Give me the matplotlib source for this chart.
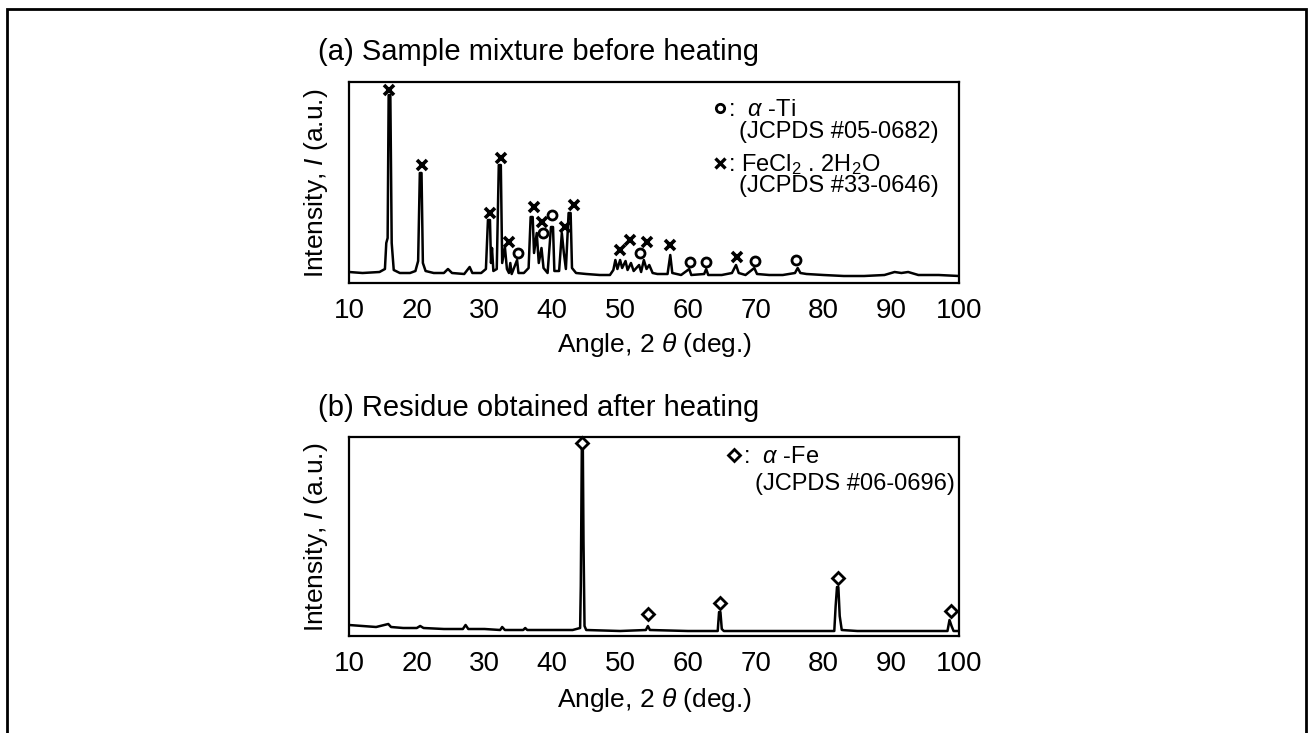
import matplotlib
matplotlib.use("Agg")
import matplotlib.pyplot as plt
from matplotlib.lines import Line2D
from matplotlib.patches import Rectangle

plt.rcParams['font.family'] = ['Liberation Sans', 'DejaVu Sans']
plt.rcParams['mathtext.fontset'] = 'custom'
plt.rcParams['mathtext.rm'] = 'Liberation Sans'
plt.rcParams['mathtext.it'] = 'Liberation Sans:italic'
plt.rcParams['mathtext.bf'] = 'Liberation Sans:bold'

# ==========================================
# DATA
# ==========================================
# (a) sample mixture before heating: profile vertices
two_theta_a = [10.0, 12.0, 14.5, 15.3, 15.5, 15.7, 15.85, 16.1, 16.3, 16.6,
               17.5, 19.0, 19.8, 20.2, 20.45, 20.7, 20.9, 21.3, 22.5, 24.0,
               24.6, 25.2, 27.0, 27.8, 28.2, 29.5, 30.2, 30.5, 30.8, 30.95,
               31.1, 31.3, 31.8, 32.1, 32.4, 32.6, 33.0, 33.3, 33.6, 33.8,
               34.0, 34.8, 35.0, 35.8, 36.5, 36.8, 37.1, 37.3, 37.7, 38.0,
               38.4, 38.7, 39.3, 39.8, 40.1, 40.3, 41.0, 41.4, 41.7, 42.0,
               42.4, 42.7, 42.9, 43.5, 45.0, 47.0, 48.5, 49.0, 49.3, 49.6,
               50.0, 50.3, 50.8, 51.1, 51.6, 52.0, 52.8, 53.1, 53.5, 53.9,
               54.3, 54.8, 55.5, 57.0, 57.4, 57.7, 59.0, 60.2, 60.5, 62.4,
               62.7, 63.0, 65.0, 66.5, 67.1, 67.5, 68.5, 69.8, 70.2, 72.0,
               74.0, 75.8, 76.2, 76.6, 77.5, 80.0, 83.0, 86.0, 89.0, 90.5,
               91.5, 92.5, 94.0, 97.0, 100.0]
intensity_a = [11, 10, 11, 14, 40, 45, 188, 188, 40, 13,
               10, 10, 12, 22, 110, 110, 20, 12, 10, 10,
               14, 10, 9, 16, 10, 10, 14, 63, 63, 20,
               35, 12, 14, 118, 118, 20, 36, 14, 10, 20,
               9, 23, 10, 10, 15, 66, 66, 30, 50, 20,
               35, 15, 10, 56, 56, 12, 12, 50, 30, 14,
               70, 70, 15, 10, 9, 8, 8, 13, 23, 14,
               23, 15, 22, 13, 20, 12, 18, 11, 23, 14,
               18, 10, 9, 9, 28, 10, 8, 14, 8, 9,
               14, 8, 8, 10, 18, 10, 8, 15, 9, 8,
               8, 10, 15, 10, 9, 8, 7, 7, 8, 11,
               10, 11, 8, 8, 7]

# peak markers, panel (a)
ti_angle = [34.9, 38.6, 40.0, 52.9, 60.3, 62.7, 69.9, 75.9]
ti_height = [30, 50, 68, 30, 21, 21, 22, 23]
fecl_angle = [15.9, 20.8, 30.8, 32.4, 33.6, 37.3, 38.5, 41.9, 43.2,
              50.0, 51.5, 54.0, 57.4, 67.2]
fecl_height = [193, 118, 70, 125, 41, 76, 61, 56, 78,
               33, 43, 41, 38, 26]

# (b) residue obtained after heating: profile vertices
two_theta_b = [10.0, 12.0, 14.0, 15.8, 16.2, 18.0, 20.0, 20.5, 21.0, 24.0,
               26.8, 27.2, 27.6, 30.0, 32.3, 32.6, 33.0, 35.7, 36.0, 36.3,
               40.0, 43.0, 44.1, 44.2, 44.35, 44.5, 44.6, 44.75, 45.0, 50.0,
               53.8, 54.1, 54.4, 60.0, 64.4, 64.6, 64.8, 65.0, 65.3, 70.0,
               75.0, 81.6, 81.8, 82.0, 82.2, 82.4, 82.7, 85.0, 90.0, 95.0,
               98.3, 98.6, 98.9, 99.2, 100.0]
intensity_b = [11, 10, 9, 12, 9, 8, 8, 10, 8, 7,
               7, 11, 7, 7, 6, 9, 6, 6, 8, 6,
               6, 6, 8, 50, 189, 189, 93, 10, 6, 5,
               6, 10, 6, 5, 5, 24, 24, 7, 5, 5,
               5, 5, 30, 49, 49, 20, 6, 5, 5, 5,
               5, 16, 10, 5, 5]

fe_angle = [44.45, 54.1, 64.7, 82.1, 98.75]
fe_height = [193, 22, 33, 58, 25]

xticks = [10, 20, 30, 40, 50, 60, 70, 80, 90, 100]

# ==========================================
# FIGURE
# ==========================================
W, H = 1308, 733
fig = plt.figure(figsize=(W / 100, H / 100), dpi=100)


def px_box(x0, y0, x1, y1):
    return [x0 / W, 1 - y1 / H, (x1 - x0) / W, (y1 - y0) / H]


def fx(x):
    return x / W


def fy(y):
    return 1 - y / H


ax_a = fig.add_axes(px_box(349, 82, 959, 283))
ax_b = fig.add_axes(px_box(349, 437, 959, 636))

for ax in (ax_a, ax_b):
    ax.set_xlim(10, 100)
    ax.set_xticks(xticks)
    ax.set_yticks([])
    ax.tick_params(axis="x", length=0, labelsize=20, pad=11)
    for s in ax.spines.values():
        s.set_linewidth(1.6)
        s.set_color("black")

ax_a.set_ylim(0, 201)
ax_b.set_ylim(0, 199)

# panel (a)
ax_a.plot(two_theta_a, intensity_a, color="black", lw=1.8, zorder=2)
ax_a.plot(ti_angle, ti_height, ls="none", marker="o", ms=6.5, mfc="white",
          mec="black", mew=2.0, zorder=3, clip_on=False)
ax_a.plot(fecl_angle, fecl_height, ls="none", marker="x", ms=7.5,
          color="black", mew=2.6, zorder=3, clip_on=False)

# panel (b)
ax_b.plot(two_theta_b, intensity_b, color="black", lw=1.8, zorder=2)
ax_b.plot(fe_angle, fe_height, ls="none", marker="D", ms=6.5, mfc="white",
          mec="black", mew=2.0, zorder=3, clip_on=False)

# legends (keys only, reference numbers as separate text lines)
h_ti = Line2D([], [], ls="none", marker="o", ms=6, mfc="white", mec="black", mew=2.0)
h_fe = Line2D([], [], ls="none", marker="x", ms=6.5, color="black", mew=2.4)
h_alfe = Line2D([], [], ls="none", marker="D", ms=6, mfc="white", mec="black", mew=2.0)

leg_a = ax_a.legend([h_ti, h_fe],
                    [r":  $\alpha$ -Ti", r": FeCl$_2$ . 2H$_2$O"],
                    loc="upper left", bbox_to_anchor=(0.595, 0.915),
                    frameon=False, fontsize=17, handlelength=0.7,
                    handletextpad=0.0, borderpad=0, borderaxespad=0,
                    labelspacing=1.3)
ax_a.text(0.640, 0.75, "(JCPDS #05-0682)", transform=ax_a.transAxes,
          fontsize=17, va="center", ha="left")
ax_a.text(0.640, 0.485, "(JCPDS #33-0646)", transform=ax_a.transAxes,
          fontsize=17, va="center", ha="left")

leg_b = ax_b.legend([h_alfe], [r":  $\alpha$ -Fe"],
                    loc="upper left", bbox_to_anchor=(0.618, 0.955),
                    frameon=False, fontsize=17, handlelength=0.7,
                    handletextpad=0.0, borderpad=0, borderaxespad=0)
ax_b.text(0.666, 0.765, "(JCPDS #06-0696)", transform=ax_b.transAxes,
          fontsize=17, va="center", ha="left")

# axis labels and titles
ylab = r"Intensity, $I$ (a.u.)"
xlab = r"Angle, 2 $\theta$ (deg.)"
fig.text(fx(316), fy(183), ylab, rotation=90, fontsize=19, ha="center", va="center")
fig.text(fx(316), fy(537), ylab, rotation=90, fontsize=19, ha="center", va="center")
fig.text(fx(655), fy(345), xlab, fontsize=19, ha="center", va="center")
fig.text(fx(655), fy(700), xlab, fontsize=19, ha="center", va="center")

fig.text(fx(318), fy(52), "(a) Sample mixture before heating", fontsize=21,
         ha="left", va="center")
fig.text(fx(318), fy(408), "(b) Residue obtained after heating", fontsize=21,
         ha="left", va="center")

# outer frame (open at the bottom edge of the picture)
frame = Rectangle((fx(7), -0.05), fx(1299), fy(9) + 0.05, transform=fig.transFigure,
                  fill=False, lw=2.0, edgecolor="black", clip_on=False)
fig.add_artist(frame)

fig.savefig("out.png", dpi=100)
